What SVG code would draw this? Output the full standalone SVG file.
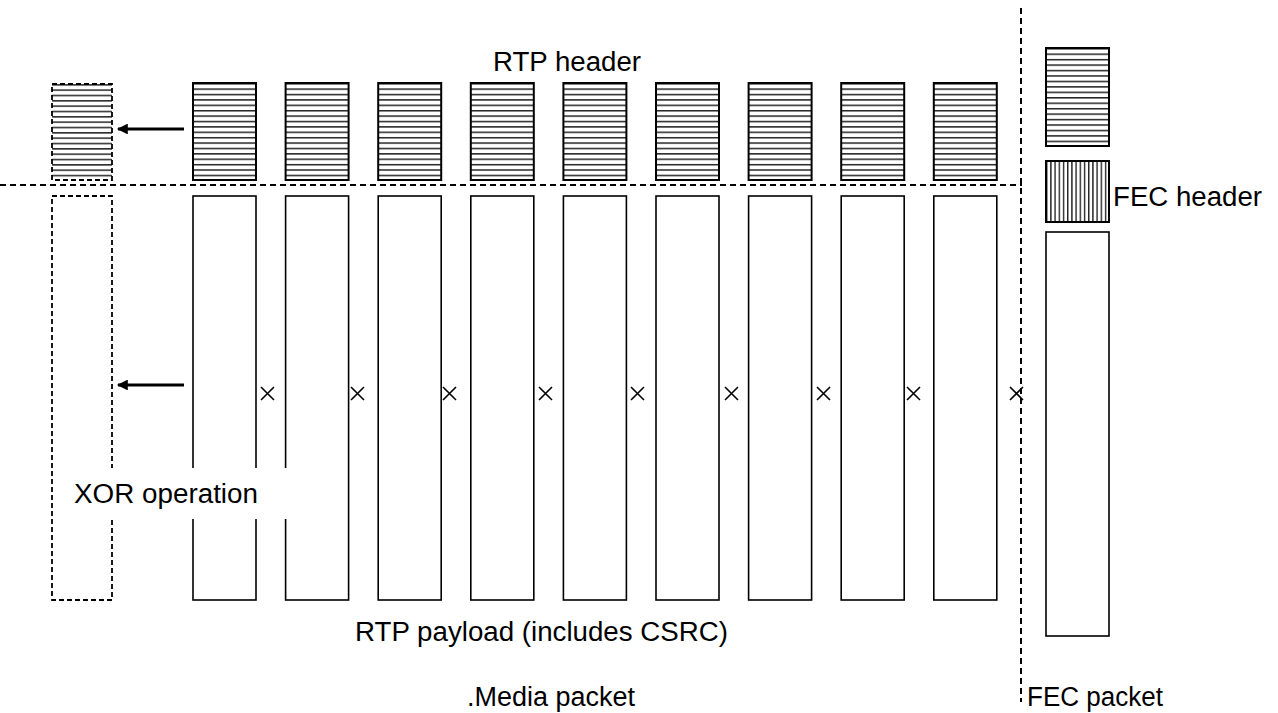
<svg xmlns="http://www.w3.org/2000/svg" width="1278" height="713" viewBox="0 0 1278 713">
<style>
  .t { font-family: "Liberation Sans", Arial, sans-serif; font-size: 27px; fill: #000; }
  .box { fill: #fff; stroke: #000; stroke-width: 1.6; }
  .hbox { fill: url(#hl); stroke: #000; stroke-width: 2; }
  .dbox { fill: none; stroke: #000; stroke-width: 1.8; stroke-dasharray: 5 3; }
  .dash { fill: none; stroke: #000; stroke-width: 2; stroke-dasharray: 6 4; }
  .arrow { stroke: #000; stroke-width: 3.2; fill: none; marker-end: url(#ah); }
  .x { stroke: #000; stroke-width: 1.6; fill: none; }
</style>
<defs>
  <pattern id="hl" patternUnits="objectBoundingBox" width="1" height="0.0556">
    <rect x="0" y="0" width="200" height="1.5" fill="#222"/>
  </pattern>
  <pattern id="hld" patternUnits="objectBoundingBox" width="1" height="0.0556">
    <rect x="0" y="0" width="200" height="1.6" fill="#333"/>
  </pattern>
  <pattern id="vl" patternUnits="objectBoundingBox" width="0.0667" height="1">
    <rect x="0" y="0" width="1.4" height="200" fill="#222"/>
  </pattern>
  <marker id="ah" viewBox="0 0 10 10" refX="9" refY="5" markerWidth="4.2" markerHeight="3.4" orient="auto" markerUnits="strokeWidth">
    <path d="M0,0 L10,5 L0,10 Z" fill="#000"/>
  </marker>
</defs>
<rect width="1278" height="713" fill="#fff"/>

<g id="connectors">
  <line class="dash" x1="0" y1="185" x2="1022" y2="185"/>
  <line class="dash" x1="1021" y1="8" x2="1021" y2="702"/>
  <line class="arrow" x1="184" y1="129" x2="118" y2="129"/>
  <line class="arrow" x1="184" y1="385" x2="118" y2="385"/>
</g>

<g id="xor-result">
  <rect x="52" y="84" width="60" height="96" fill="url(#hld)" stroke="none"/>
  <rect class="dbox" x="52" y="84" width="60" height="96"/>
  <rect class="dbox" x="52" y="196" width="60" height="404"/>
</g>

<g id="media-packet-1"><rect class="hbox" x="193" y="83" width="63" height="97"/><rect class="box" x="193" y="196" width="63" height="404"/></g>
<g id="media-packet-2"><rect class="hbox" x="285.6" y="83" width="63" height="97"/><rect class="box" x="285.6" y="196" width="63" height="404"/></g>
<g id="media-packet-3"><rect class="hbox" x="378.2" y="83" width="63" height="97"/><rect class="box" x="378.2" y="196" width="63" height="404"/></g>
<g id="media-packet-4"><rect class="hbox" x="470.8" y="83" width="63" height="97"/><rect class="box" x="470.8" y="196" width="63" height="404"/></g>
<g id="media-packet-5"><rect class="hbox" x="563.4" y="83" width="63" height="97"/><rect class="box" x="563.4" y="196" width="63" height="404"/></g>
<g id="media-packet-6"><rect class="hbox" x="656" y="83" width="63" height="97"/><rect class="box" x="656" y="196" width="63" height="404"/></g>
<g id="media-packet-7"><rect class="hbox" x="748.6" y="83" width="63" height="97"/><rect class="box" x="748.6" y="196" width="63" height="404"/></g>
<g id="media-packet-8"><rect class="hbox" x="841.2" y="83" width="63" height="97"/><rect class="box" x="841.2" y="196" width="63" height="404"/></g>
<g id="media-packet-9"><rect class="hbox" x="933.8" y="83" width="63" height="97"/><rect class="box" x="933.8" y="196" width="63" height="404"/></g>

<g id="xor-marks">
  <path class="x" d="M261,387 l13,13 M274,387 l-13,13"/>
  <path class="x" d="M351,387 l13,13 M364,387 l-13,13"/>
  <path class="x" d="M443,387 l13,13 M456,387 l-13,13"/>
  <path class="x" d="M539,387 l13,13 M552,387 l-13,13"/>
  <path class="x" d="M631,387 l13,13 M644,387 l-13,13"/>
  <path class="x" d="M725,387 l13,13 M738,387 l-13,13"/>
  <path class="x" d="M817,387 l13,13 M830,387 l-13,13"/>
  <path class="x" d="M907,387 l13,13 M920,387 l-13,13"/>
  <path class="x" d="M1010,387 l13,13 M1023,387 l-13,13"/>
</g>

<g id="fec-packet">
  <rect class="hbox" x="1046" y="48" width="63" height="98"/>
  <rect x="1046" y="161" width="63" height="61" fill="url(#vl)" stroke="#000" stroke-width="2"/>
  <rect class="box" x="1046" y="232" width="63" height="404"/>
</g>

<g id="labels">
  <text class="t" x="493" y="71" textLength="148" lengthAdjust="spacingAndGlyphs">RTP header</text>
  <text class="t" x="1113" y="206" textLength="149" lengthAdjust="spacingAndGlyphs">FEC header</text>
  <rect x="66" y="468" width="234" height="51" fill="#fff"/>
  <text class="t" x="74" y="503" textLength="184" lengthAdjust="spacingAndGlyphs">XOR operation</text>
  <text class="t" x="355" y="641" textLength="373" lengthAdjust="spacingAndGlyphs">RTP payload (includes CSRC)</text>
  <text class="t" x="467" y="706" textLength="168" lengthAdjust="spacingAndGlyphs">.Media packet</text>
  <text class="t" x="1027" y="706" textLength="136" lengthAdjust="spacingAndGlyphs">FEC packet</text>
</g>
</svg>
